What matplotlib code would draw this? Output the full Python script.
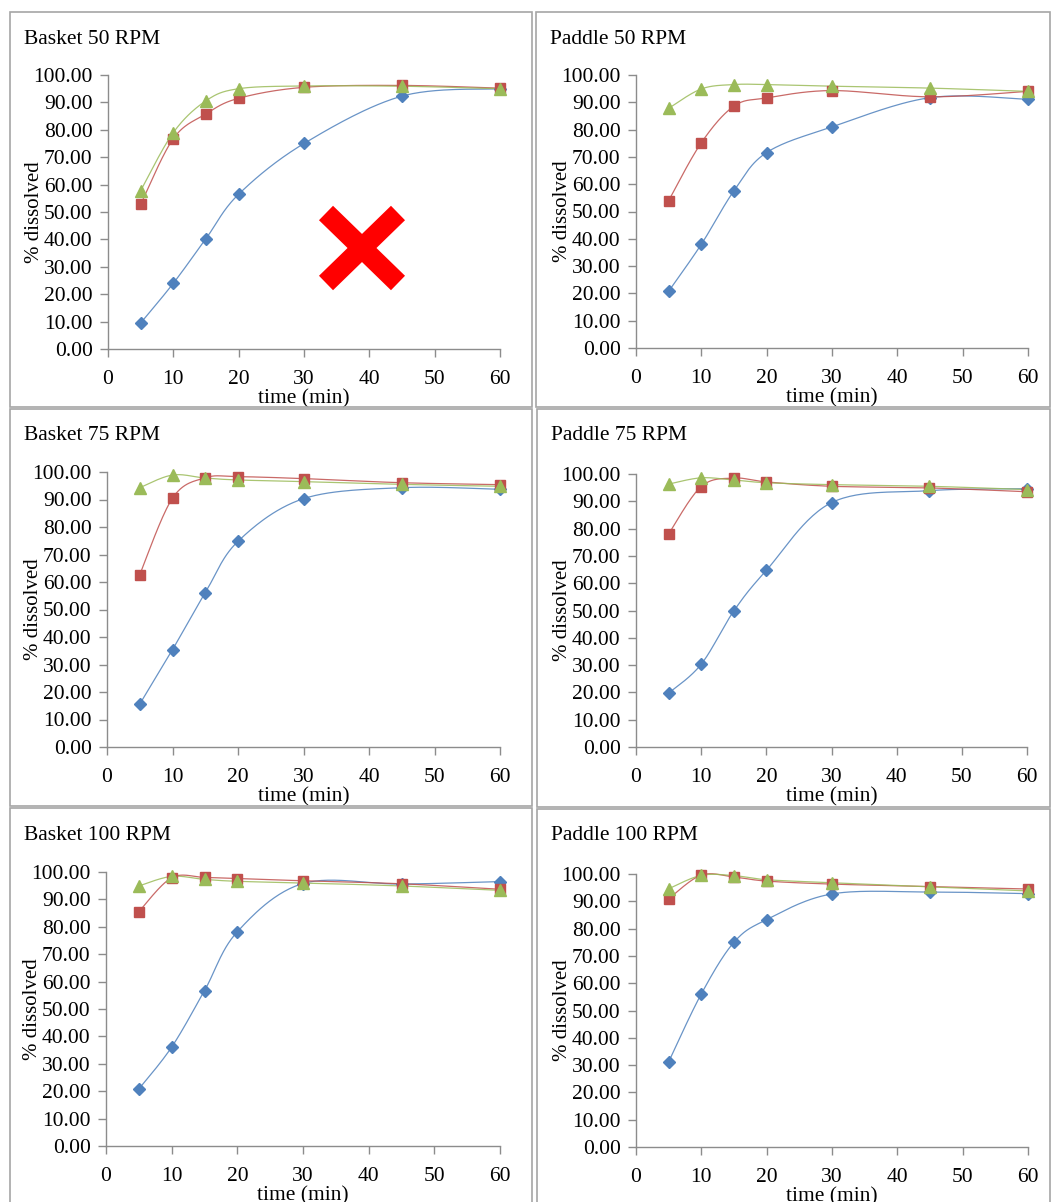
import numpy as np
import matplotlib
matplotlib.use("Agg")
import matplotlib.pyplot as plt
from matplotlib.patches import Rectangle
from matplotlib.lines import Line2D

plt.rcParams['font.family'] = ['Liberation Serif', 'DejaVu Serif']

# sampling times (min)
time = [5, 10, 15, 20, 30, 45, 60]

# % dissolved, three formulations per condition (blue / red / green)
basket50_blue = [9.5, 24.0, 40.3, 56.5, 75.0, 92.3, 95.0]
basket50_red = [52.8, 76.8, 85.8, 91.5, 95.5, 96.2, 95.2]
basket50_green = [57.8, 79.0, 90.6, 95.0, 96.0, 95.9, 95.0]

paddle50_blue = [20.8, 38.0, 57.6, 71.6, 81.0, 91.7, 91.1]
paddle50_red = [54.0, 75.2, 88.6, 91.6, 94.3, 92.0, 94.0]
paddle50_green = [87.8, 94.9, 96.5, 96.5, 95.9, 95.2, 94.0]

basket75_blue = [15.6, 35.4, 56.1, 74.8, 90.3, 94.3, 93.7]
basket75_red = [62.7, 90.5, 97.9, 98.3, 97.6, 96.1, 95.4]
basket75_green = [94.3, 98.9, 97.8, 97.1, 96.5, 95.5, 94.8]

paddle75_blue = [19.7, 30.3, 49.8, 64.7, 89.5, 93.9, 94.6]
paddle75_red = [78.0, 95.4, 98.5, 97.1, 95.5, 94.9, 93.5]
paddle75_green = [96.3, 98.6, 97.8, 96.8, 96.1, 95.5, 94.3]

basket100_blue = [20.8, 36.1, 56.7, 78.2, 95.8, 95.6, 96.5]
basket100_red = [85.5, 97.9, 98.0, 97.6, 96.8, 95.7, 93.7]
basket100_green = [94.9, 98.4, 97.3, 96.6, 96.0, 94.9, 93.3]

paddle100_blue = [31.2, 56.1, 75.0, 83.3, 92.7, 93.4, 92.8]
paddle100_red = [90.9, 99.6, 98.9, 97.4, 96.3, 95.4, 94.5]
paddle100_green = [94.6, 99.5, 99.4, 97.9, 96.8, 95.3, 93.8]

titles = ["Basket 50 RPM", "Paddle 50 RPM", "Basket 75 RPM",
          "Paddle 75 RPM", "Basket 100 RPM", "Paddle 100 RPM"]
panels = [
    (basket50_blue, basket50_red, basket50_green),
    (paddle50_blue, paddle50_red, paddle50_green),
    (basket75_blue, basket75_red, basket75_green),
    (paddle75_blue, paddle75_red, paddle75_green),
    (basket100_blue, basket100_red, basket100_green),
    (paddle100_blue, paddle100_red, paddle100_green),
]

colors = ['#4F81BD', '#C0504D', '#9BBB59']
markers = ['D', 's', '^']
msizes = [6.5, 7.5, 8.5]

W, H = 1051, 1202
fig = plt.figure(figsize=(W / 100, H / 100), dpi=100)

# panel frames (left, top, right, bottom) in pixels
frames = [(10, 12, 532, 407), (536, 12, 1050, 407),
          (10, 409, 532, 806), (537, 409, 1050, 807),
          (10, 808, 532, 1210), (537, 809, 1050, 1210)]
# axes area (x of 0, x of 60, y of 100, y of 0) in pixels
axes_px = [(108, 500, 75, 349), (636, 1028, 75, 348),
           (107, 500, 472, 747), (636, 1027, 474, 747),
           (106, 500, 872, 1146), (636, 1028, 874, 1147)]


def smooth(x, y, sx, sy, n=30):
    """Excel-like smoothed line (Catmull-Rom in screen space)."""
    px = np.asarray(x, float) * sx
    py = np.asarray(y, float) * sy
    P = np.column_stack([px, py])
    P = np.vstack([P[0], P, P[-1]])
    out = []
    t = np.linspace(0, 1, n)[:, None]
    for i in range(1, len(P) - 2):
        p0, p1, p2, p3 = P[i - 1], P[i], P[i + 1], P[i + 2]
        c1 = p1 + (p2 - p0) / 6
        c2 = p2 - (p3 - p1) / 6
        seg = ((1 - t) ** 3) * p1 + 3 * ((1 - t) ** 2) * t * c1 + 3 * (1 - t) * t ** 2 * c2 + t ** 3 * p2
        out.append(seg)
    out = np.vstack(out)
    return out[:, 0] / sx, out[:, 1] / sy


grey = '#8c8c8c'
fs = 15.5
for k, (fr, ap) in enumerate(zip(frames, axes_px)):
    l, t, r, b = fr
    fig.patches.append(Rectangle((l / W, 1 - b / H), (r - l) / W, (b - t) / H,
                                 transform=fig.transFigure, fill=False,
                                 edgecolor='#a6a6a6', linewidth=1.2))
    fig.text((l + 14) / W, 1 - (t + 27) / H, titles[k], fontsize=fs,
             va='center', ha='left')

    x0, x1, ytop, ybot = ap
    ax = fig.add_axes([x0 / W, 1 - ybot / H, (x1 - x0) / W, (ybot - ytop) / H])
    sx = (x1 - x0) / 60.0
    sy = (ybot - ytop) / 100.0
    for series, c, m, ms in zip(panels[k], colors, markers, msizes):
        xs, ys = smooth(time, series, sx, sy)
        ax.plot(xs, ys, color=c, linewidth=0.9, alpha=0.85, clip_on=False)
        ax.plot(time, series, linestyle='none', marker=m, markersize=ms,
                color=c, markeredgecolor=c, clip_on=False, zorder=3)
    ax.set_xlim(0, 60)
    ax.set_ylim(0, 100)
    ax.set_xticks(range(0, 61, 10))
    ax.set_yticks(range(0, 101, 10))
    ax.set_yticklabels([f"{v:.2f}" for v in range(0, 101, 10)])
    for s in ['top', 'right']:
        ax.spines[s].set_visible(False)
    for s in ['left', 'bottom']:
        ax.spines[s].set_color(grey)
        ax.spines[s].set_linewidth(1.0)
    ax.tick_params(colors=grey, labelcolor='black', labelsize=fs,
                   length=6, width=1.0, direction='out', pad=5)
    ax.tick_params(axis='x', pad=9)
    ax.set_xlabel("time (min)", fontsize=fs, labelpad=0)
    ax.set_ylabel("% dissolved", fontsize=15, labelpad=-8)
    ax.patch.set_alpha(0)

    if k == 0:
        # red cross drawn over the first panel
        for (xa, ya), (xb, yb) in [((326, 213), (398, 283)), ((326, 283), (398, 213))]:
            fig.add_artist(Line2D([xa / W, xb / W], [1 - ya / H, 1 - yb / H],
                                  transform=fig.transFigure, color='#FF0000',
                                  linewidth=14.5, solid_capstyle='butt'))

fig.savefig("out.png", dpi=100)
